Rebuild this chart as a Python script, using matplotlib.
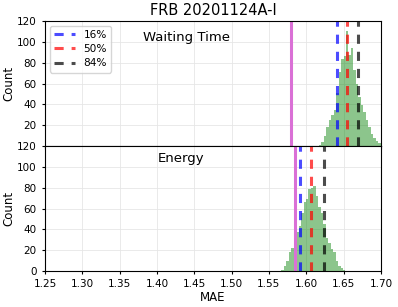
import numpy as np
import matplotlib
matplotlib.use("Agg")
import matplotlib.pyplot as plt

# histogram counts (bin width 0.0033)
wt_start = 1.6170
wt_counts = [1, 4, 10, 18, 25, 30, 35, 51, 71, 83, 86, 110, 87, 94, 73,
             60, 47, 39, 33, 25, 18, 12, 8, 5, 3]
en_start = 1.5667
en_counts = [1, 5, 10, 18, 22, 34, 38, 43, 56, 66, 69, 79, 80, 82, 72,
             62, 56, 45, 32, 27, 21, 18, 10, 5, 3, 1]
bin_w = 0.0033

# percentile lines (16, 50, 84) and observed value
wt_pct = [1.6406, 1.6540, 1.6690]
en_pct = [1.5915, 1.6067, 1.6233]
wt_obs = 1.5794
en_obs = 1.5848

pct_labels = ["16%", "50%", "84%"]
pct_colors = ["blue", "red", "black"]
xticks = [1.25, 1.30, 1.35, 1.40, 1.45, 1.50, 1.55, 1.60, 1.65, 1.70]

fig = plt.figure(figsize=(3.98, 3.07), dpi=100)
ax1 = fig.add_axes([0.113, 0.524, 0.844, 0.408])
ax2 = fig.add_axes([0.113, 0.117, 0.844, 0.407], sharex=ax1)

panels = [
    (ax1, wt_start, wt_counts, wt_pct, wt_obs, "Waiting Time", (0.292, 0.864)),
    (ax2, en_start, en_counts, en_pct, en_obs, "Energy", (0.336, 0.904)),
]

for ax, start, counts, pct, obs, name, pos in panels:
    edges = start + bin_w * np.arange(len(counts))
    ax.bar(edges, counts, width=bin_w, align="edge", color="g", alpha=0.45,
           linewidth=0)
    ax.axvline(obs, color="orchid", lw=2.2)
    for v, lab, c in zip(pct, pct_labels, pct_colors):
        ax.axvline(v, color=c, ls="--", lw=2.2, alpha=0.7, label=lab,
                   dashes=(3, 2.6))
    ax.set_ylim(0, 120)
    ax.set_yticks(range(0, 121, 20))
    ax.grid(True, color="0.9", lw=0.6)
    ax.set_axisbelow(True)
    ax.set_ylabel("Count", fontsize=8.5, labelpad=1)
    ax.tick_params(labelsize=7.5, length=2.5)
    ax.text(pos[0], pos[1], name, transform=ax.transAxes, fontsize=9.5,
            ha="left", va="center")

ax1.set_yticks(range(20, 121, 20))
ax1.tick_params(axis="x", labelbottom=False)
ax1.legend(loc="upper left", fontsize=7.6, handlelength=2.0,
           borderaxespad=0.45, labelspacing=0.4)
ax1.set_title("FRB 20201124A-I", fontsize=10.5, pad=4)

ax2.set_xlim(1.25, 1.70)
ax2.set_xticks(xticks)
ax2.set_xticklabels([f"{t:.2f}" for t in xticks])
ax2.set_xlabel("MAE", fontsize=8.5, labelpad=1)

fig.savefig("out.png", dpi=100)
